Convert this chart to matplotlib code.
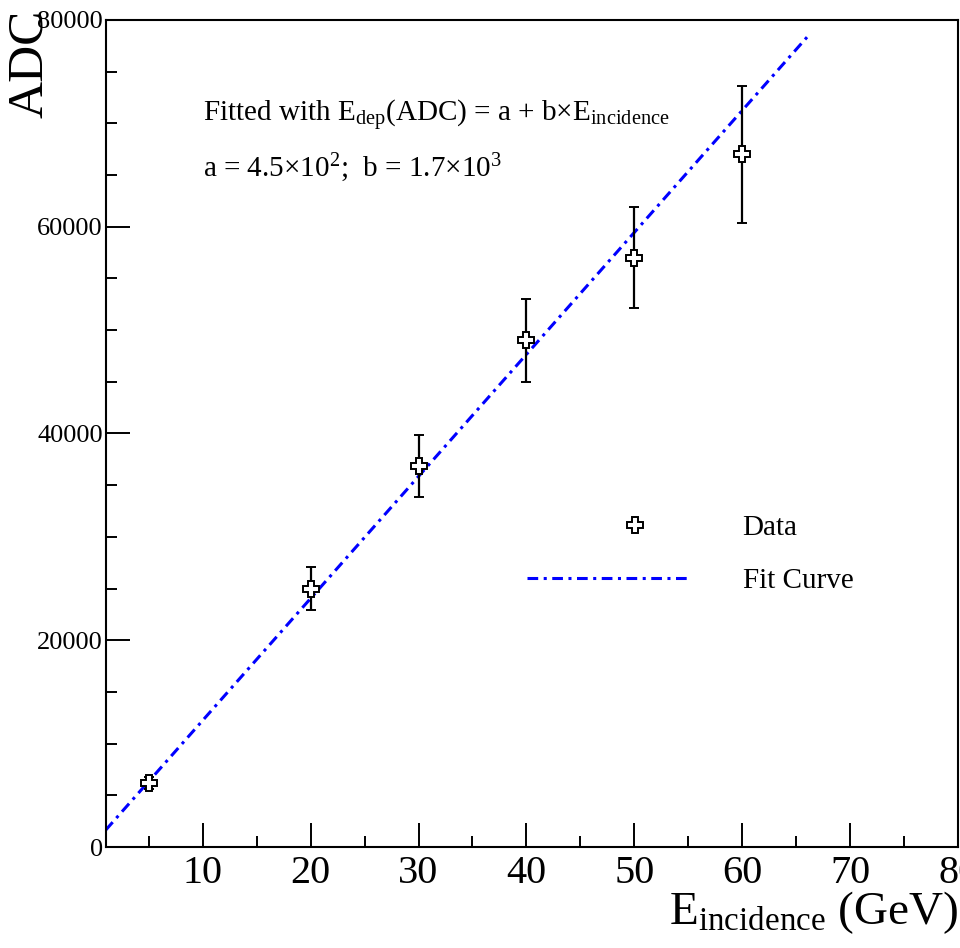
import numpy as np
import matplotlib.pyplot as plt
from matplotlib.ticker import MultipleLocator
from matplotlib.legend_handler import HandlerLine2D

plt.rcParams['font.family'] = ['Liberation Serif', 'DejaVu Serif']
plt.rcParams['mathtext.fontset'] = 'custom'
plt.rcParams['mathtext.rm'] = 'Liberation Serif'
plt.rcParams['mathtext.it'] = 'Liberation Serif:italic'

# data
energy = [5, 20, 30, 40, 50, 60]
adc = [6200, 25000, 36900, 49000, 57000, 67000]
adc_err = [600, 2100, 3000, 4000, 4900, 6600]

# fitted line as drawn
fit_a = 450
fit_b = 1180
fit_x = [1, 66]


class OffsetMarker(HandlerLine2D):
    # put the legend marker a bit right of centre, like ROOT does
    def get_xdata(self, legend, xdescent, ydescent, width, height, fontsize):
        x = -xdescent + width * 0.66
        return [x], [x]


fig = plt.figure(figsize=(9.6, 9.48), dpi=100)
ax = fig.add_axes([0.110, 0.1065, 0.888, 0.8725])

xs = np.array(fit_x)
fit_line, = ax.plot(xs, fit_a + fit_b * xs, color='#0000ff', lw=2.2,
                    dashes=(3.5, 1.8, 1, 1.8), label='Fit Curve', zorder=2)
ax.errorbar(energy, adc, yerr=adc_err, fmt='none', ecolor='black',
            elinewidth=1.6, capsize=3.5, capthick=1.4, zorder=3)
data_pts, = ax.plot(energy, adc, ls='none', marker='P', ms=11, mfc='white',
                    mec='black', mew=1.4, label='Data', zorder=4)

ax.set_xlim(1, 80)
ax.set_ylim(0, 80000)
ax.xaxis.set_major_locator(MultipleLocator(10))
ax.xaxis.set_minor_locator(MultipleLocator(5))
ax.yaxis.set_major_locator(MultipleLocator(20000))
ax.yaxis.set_minor_locator(MultipleLocator(5000))
ax.tick_params(which='both', direction='in', width=1.4)
ax.tick_params(which='major', length=17)
ax.tick_params(which='minor', length=8)
ax.tick_params(axis='x', labelsize=29, pad=6)
ax.tick_params(axis='y', labelsize=19, pad=2)
for s in ax.spines.values():
    s.set_linewidth(1.5)

ax.set_xlabel(r'E$_{\mathrm{incidence}}$ (GeV)', fontsize=34, loc='right', labelpad=-2)
ax.set_ylabel('ADC', fontsize=37, loc='top')
ax.yaxis.set_label_coords(-0.062, 1.012)

ax.text(0.114, 0.885, r'Fitted with E$_{\mathrm{dep}}$(ADC) = a + b$\times$E$_{\mathrm{incidence}}$',
        transform=ax.transAxes, fontsize=21, va='center')
ax.text(0.114, 0.821, r'a = 4.5$\times$10$^{2}$;  b = 1.7$\times$10$^{3}$',
        transform=ax.transAxes, fontsize=21, va='center')

ax.legend([data_pts, fit_line], ['Data', 'Fit Curve'], loc='upper left',
          bbox_to_anchor=(0.494, 0.4015), frameon=False, borderpad=0,
          borderaxespad=0, fontsize=21, handlelength=5.6, handletextpad=1.8,
          labelspacing=0.9, handler_map={data_pts: OffsetMarker()})

fig.savefig('out.png', dpi=100)
